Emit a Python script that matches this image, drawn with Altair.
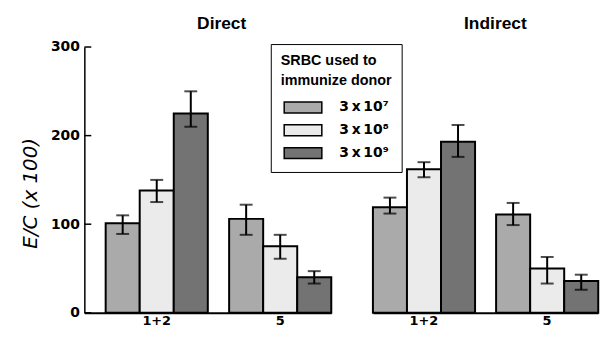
import altair as alt
import pandas as pd

groups = ["1+2", "5"]
doses = ["3\u2009x\u200910⁷", "3\u2009x\u200910⁸", "3\u2009x\u200910⁹"]

direct_vals = [[101, 138, 225], [106, 75, 40]]
direct_lo = [[89, 125, 210], [88, 61, 33]]
direct_hi = [[110, 150, 250], [122, 88, 47]]

indirect_vals = [[119, 162, 193], [111, 50, 36]]
indirect_lo = [[112, 153, 176], [99, 33, 26]]
indirect_hi = [[130, 170, 212], [124, 63, 43]]

y_ticks = [0, 100, 200, 300]
fills = ["#aaaaaa", "#ebebeb", "#737373"]
y_title = "E/C (x 100)"


def make_df(vals, lo, hi):
    rows = []
    for gi, g in enumerate(groups):
        for di, d in enumerate(doses):
            rows.append({"group": g, "dose": d, "value": vals[gi][di],
                         "lo": lo[gi][di], "hi": hi[gi][di]})
    return pd.DataFrame(rows)


df_direct = make_df(direct_vals, direct_lo, direct_hi)
df_indirect = make_df(indirect_vals, indirect_lo, indirect_hi)
df_ticks = pd.DataFrame({"v": y_ticks})

legend = alt.Legend(
    orient="none", legendX=188, legendY=-3,
    title=["SRBC used to", "immunize donor"],
    titleFont="Liberation Sans", titleFontSize=14.5, titleFontWeight="bold",
    titleColor="black", titleLineHeight=20, titlePadding=12,
    labelFont="DejaVu Sans", labelFontSize=14, labelFontWeight="bold",
    labelColor="black", labelOffset=29,
    symbolType="M-3,-0.87L3,-0.87L3,0.87L-3,0.87Z", symbolSize=160,
    symbolStrokeColor="black", symbolStrokeWidth=1.5, symbolOpacity=1,
    symbolOffset=15, rowPadding=4, padding=10,
    strokeColor="black", fillColor="white",
)


def panel(df, title, width, xscale, show_y, title_dx, title_offset):
    base = alt.Chart(df)
    x = alt.X("group:N", sort=groups, scale=xscale,
              axis=alt.Axis(title=None, labelAngle=0, ticks=False,
                            domainColor="black", domainWidth=2,
                            labelFont="DejaVu Sans", labelFontWeight="bold",
                            labelFontSize=13, labelColor="black",
                            labelPadding=2))
    xo = alt.XOffset("dose:N", sort=doses,
                     scale=alt.Scale(paddingInner=0, paddingOuter=0))
    if show_y:
        yax = alt.Axis(values=y_ticks, ticks=False, grid=False,
                       domainColor="black", domainWidth=1.5,
                       labelFont="DejaVu Sans", labelFontWeight="bold",
                       labelFontSize=14, labelColor="black", labelPadding=5,
                       titleFont="DejaVu Sans", titleFontStyle="italic",
                       titleFontWeight="normal", titleFontSize=20,
                       titleColor="black", titleX=-44, titleY=147)
    else:
        yax = None
    yscale = alt.Scale(domain=[0, 300], nice=False, zero=True)

    bars = base.mark_bar(stroke="black", strokeWidth=2).encode(
        x=x, xOffset=xo,
        y=alt.Y("value:Q", scale=yscale, axis=yax, title=y_title),
        color=alt.Color("dose:N", sort=doses,
                        scale=alt.Scale(domain=doses, range=fills),
                        legend=legend),
    )
    rules = base.mark_rule(color="black", strokeWidth=2).encode(
        x=x, xOffset=xo,
        y=alt.Y("lo:Q", scale=yscale, axis=yax, title=y_title),
        y2="hi:Q",
    )
    cap_hi = base.mark_tick(color="black", size=13, thickness=2).encode(
        x=x, xOffset=xo,
        y=alt.Y("hi:Q", scale=yscale, axis=yax, title=y_title),
    )
    cap_lo = base.mark_tick(color="black", size=13, thickness=2).encode(
        x=x, xOffset=xo,
        y=alt.Y("lo:Q", scale=yscale, axis=yax, title=y_title),
    )
    layers = [bars, rules, cap_hi, cap_lo]
    if show_y:
        ticks = alt.Chart(df_ticks).mark_rule(color="black", strokeWidth=1.5).encode(
            y=alt.Y("v:Q", scale=yscale, axis=yax, title=y_title),
            x=alt.value(0), x2=alt.value(7),
        )
        layers.append(ticks)
    return alt.layer(*layers).properties(
        width=width, height=268,
        title=alt.TitleParams(title, font="Liberation Sans", fontSize=17.5,
                              fontWeight="bold", color="black",
                              offset=title_offset,
                              anchor="middle", dx=title_dx),
    )


left = panel(df_direct, "Direct", 249,
             alt.Scale(paddingInner=0.1727, paddingOuter=0.0863, align=1),
             True, 14, 8)
right = panel(df_indirect, "Indirect", 227,
              alt.Scale(paddingInner=0.1727, paddingOuter=0, align=0),
              False, 10, 15)

chart = alt.hconcat(left, right, spacing=42, bounds="flush").resolve_scale(
    color="shared"
).properties(
    padding={"left": 13, "top": 5, "right": 0, "bottom": 0}
).configure_view(stroke=None)

chart.save("out.html", embed_options={"renderer": "svg", "actions": False})
